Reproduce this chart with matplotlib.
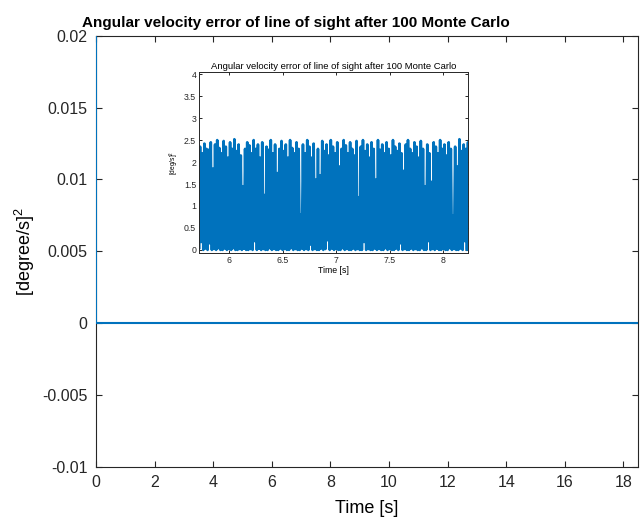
import numpy as np
import matplotlib.pyplot as plt

plt.rcParams['font.family'] = ['Liberation Sans', 'DejaVu Sans']
plt.rcParams['mathtext.default'] = 'regular'

BLUE = '#0072BD'

# main plot: error over the whole run (spike at t=0, then ~0)
main_time = [0.0, 0.0, 18.5]
main_err = [4.0, 0.0, 0.0]
main_xticks = [0, 2, 4, 6, 8, 10, 12, 14, 16, 18]
main_yticks = [-0.01, -0.005, 0, 0.005, 0.01, 0.015, 0.02]
main_yticklabels = ['-0.01', '-0.005', '0', '0.005', '0.01', '0.015', '0.02']

# inset: zoom between ~5.7 s and ~8.25 s, read as peaks / troughs
inset_t0 = 5.70
inset_dt = 0.01
inset_peaks = [
    2.3, 2.35, 2.2, 2.42, 2.3, 2.28, 2.45, 1.85,
    2.4, 2.5, 2.32, 2.2, 2.48, 2.35, 2.1, 2.45,
    2.3, 2.52, 2.25, 2.4, 2.15, 1.45, 2.3, 2.45,
    2.38, 2.2, 2.5, 2.3, 2.4, 2.1, 2.45, 1.25,
    2.35, 2.28, 2.5, 2.2, 2.4, 1.75, 2.3, 2.48,
    2.25, 2.4, 2.1, 2.5, 2.32, 2.2, 2.45, 2.3,
    0.8, 2.4, 2.2, 2.5, 2.35, 2.1, 2.42, 1.6,
    2.3, 1.7, 2.48, 2.25, 2.4, 2.15, 2.5, 2.35,
    2.2, 2.45, 1.9, 2.3, 2.5, 2.38, 2.2, 2.45,
    2.3, 2.15, 2.48, 1.2, 2.35, 2.5, 2.25, 2.4,
    2.1, 2.45, 2.3, 1.6, 2.5, 2.28, 2.4, 2.2,
    2.45, 2.3, 2.15, 2.5, 2.35, 2.25, 2.42, 2.2,
    1.8, 2.4, 2.5, 2.3, 2.2, 2.45, 2.35, 2.1,
    2.48, 2.3, 1.45, 2.4, 2.2, 1.55, 2.45, 2.35,
    2.2, 2.5, 2.3, 2.4, 2.15, 2.45, 2.3, 0.78,
    2.35, 1.9, 2.52, 2.25, 2.4, 2.3, 2.45, 2.38,
]
inset_lows = [
    0.0, 0.02, 0.18, 0.0, 0.03, 0.0, 0.15, 0.0,
    0.02, 0.0, 0.04, 0.0, 0.0, 0.03, 0.0, 0.02,
    0.0, 0.04, 0.0, 0.0, 0.02, 0.0, 0.03, 0.0,
    0.0, 0.02, 0.0, 0.2, 0.0, 0.03, 0.0, 0.02,
    0.0, 0.0, 0.04, 0.0, 0.02, 0.0, 0.0, 0.03,
    0.0, 0.02, 0.0, 0.0, 0.04, 0.0, 0.02, 0.0,
    0.0, 0.03, 0.0, 0.02, 0.0, 0.12, 0.0, 0.02,
    0.0, 0.0, 0.03, 0.0, 0.02, 0.22, 0.0, 0.03,
    0.0, 0.02, 0.0, 0.0, 0.04, 0.0, 0.02, 0.0,
    0.0, 0.03, 0.0, 0.02, 0.0, 0.0, 0.18, 0.0,
    0.02, 0.0, 0.0, 0.03, 0.0, 0.02, 0.0, 0.0,
    0.04, 0.0, 0.02, 0.0, 0.0, 0.03, 0.0, 0.15,
    0.0, 0.02, 0.0, 0.0, 0.03, 0.0, 0.02, 0.0,
    0.0, 0.04, 0.0, 0.0, 0.2, 0.0, 0.02, 0.0,
    0.03, 0.0, 0.0, 0.02, 0.0, 0.0, 0.04, 0.0,
    0.02, 0.0, 0.0, 0.03, 0.0, 0.2, 0.0, 0.02,
]
inset_xticks = [6, 6.5, 7, 7.5, 8]
inset_yticks = [0, 0.5, 1, 1.5, 2, 2.5, 3, 3.5, 4]

inset_err = np.empty(2 * len(inset_peaks))
inset_err[0::2] = inset_lows
inset_err[1::2] = inset_peaks
inset_time = inset_t0 + inset_dt * np.arange(len(inset_err))


def matlab_style(ax, lw=0.8, tl=4):
    for s in ax.spines.values():
        s.set_color('#262626')
        s.set_linewidth(lw)
    ax.tick_params(direction='in', top=True, right=True, length=tl,
                   width=lw, colors='#262626')


fig = plt.figure(figsize=(6.44, 5.23), dpi=100)
ax = fig.add_axes([0.149, 0.1077, 0.8418, 0.824])
ax.plot(main_time, main_err, color=BLUE, lw=1.5, zorder=3)
ax.set_xlim(0, 18.5)
ax.set_ylim(-0.01, 0.02)
ax.set_xticks(main_xticks)
ax.set_yticks(main_yticks)
ax.set_yticklabels(main_yticklabels)
matlab_style(ax)
ax.tick_params(labelsize=11.5, pad=6)
ax.set_xlabel('Time [s]', fontsize=13, labelpad=7)
ax.set_ylabel('[degree/s]$^2$', fontsize=13, labelpad=4)
ax.set_title('Angular velocity error of line of sight after 100 Monte Carlo',
             fontsize=11, fontweight='bold', pad=6, x=0.369)

ins = fig.add_axes([0.309, 0.5163, 0.4177, 0.346])
ins.plot(inset_time, inset_err, color=BLUE, lw=1.9)
ins.set_xlim(5.72, 8.23)
ins.set_ylim(-0.07, 4.05)
ins.set_xticks(inset_xticks)
ins.set_xticklabels(['6', '6.5', '7', '7.5', '8'])
ins.set_yticks(inset_yticks)
ins.set_yticklabels(['0', '0.5', '1', '1.5', '2', '2.5', '3', '3.5', '4'])
matlab_style(ins, lw=0.7, tl=2.5)
ins.tick_params(labelsize=6.3, pad=2)
ins.set_xlabel('Time [s]', fontsize=6.3, labelpad=1)
ins.set_ylabel('[deg/s]$^2$', fontsize=4.8, labelpad=2)
ins.set_title('Angular velocity error of line of sight after 100 Monte Carlo',
              fontsize=6.8, pad=2)

fig.savefig('out.png', dpi=100)
